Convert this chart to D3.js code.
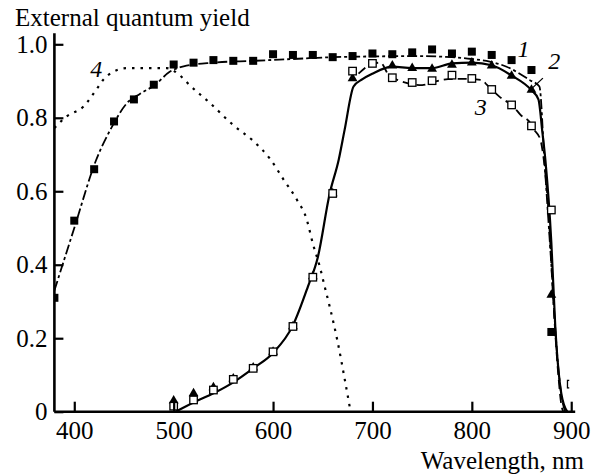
<!DOCTYPE html>
<html>
<head>
<meta charset="utf-8">
<script src="https://cdn.jsdelivr.net/npm/d3@7"></script>
<style>
  body { margin: 0; background: #fff; }
  svg text { font-family: "Liberation Serif", "Times New Roman", Times, "DejaVu Serif", serif !important; fill: #000; }
</style>
</head>
<body>
<div id="chart"></div>
<script>
(function () {

  // Marker data (wavelength, nm / external quantum yield)
  const sq1Wave = [380, 400, 420, 440, 460, 480, 500, 520, 540, 560, 580, 600, 620, 640, 660,
                   680, 700, 720, 740, 760, 780, 800, 820, 840, 860, 880]
  const sq1Yield = [0.31, 0.52, 0.66, 0.79, 0.85, 0.89, 0.945, 0.95, 0.957, 0.955, 0.955, 0.973,
                    0.971, 0.971, 0.965, 0.968, 0.975, 0.973, 0.978, 0.986, 0.975, 0.98, 0.971,
                    0.957, 0.93, 0.217]

  const tri2Wave = [500, 520, 540, 560, 580, 600, 620, 640, 660, 680, 720, 740, 760, 780, 800, 820, 840, 860, 880]
  const tri2Yield = [0.03, 0.05, 0.066, 0.09, 0.12, 0.163, 0.232, 0.368, 0.594, 0.907, 0.942,
                     0.935, 0.933, 0.944, 0.95, 0.942, 0.914, 0.876, 0.318]

  const sq3Wave = [500, 520, 540, 560, 580, 600, 620, 640, 660, 680, 700, 720, 740, 760, 780,
                   800, 820, 840, 860, 880, 900]
  const sq3Yield = [0.015, 0.032, 0.059, 0.088, 0.118, 0.163, 0.232, 0.366, 0.594, 0.927, 0.948,
                    0.909, 0.896, 0.901, 0.916, 0.907, 0.877, 0.835, 0.778, 0.549, 0.075]

  // Curves
  const line1 = [[380, 0.33], [400, 0.50], [422, 0.685], [438, 0.776], [453, 0.84], [466, 0.865],
                 [481, 0.889], [496, 0.925], [510, 0.94], [540, 0.95], [580, 0.955], [620, 0.96],
                 [660, 0.965], [700, 0.967], [740, 0.968], [780, 0.965], [800, 0.96], [818, 0.953],
                 [835, 0.939], [858, 0.903], [868, 0.885], [873, 0.685], [880, 0.4], [886, 0.15],
                 [891, 0.03], [894, 0]]
  const line2 = [[502, 0], [520, 0.025], [540, 0.05], [560, 0.08], [580, 0.118], [600, 0.16],
                 [620, 0.235], [635, 0.34], [645, 0.42], [657, 0.594], [666, 0.685], [672, 0.767],
                 [681, 0.885], [690, 0.905], [700, 0.92], [720, 0.939], [740, 0.935], [760, 0.935],
                 [780, 0.948], [800, 0.95], [820, 0.943], [840, 0.915], [860, 0.875], [867, 0.85],
                 [871, 0.76], [874, 0.685], [880, 0.46], [884, 0.23], [890, 0.05], [896, 0]]
  const line3 = [[686, 0.92], [700, 0.947], [708, 0.95], [716, 0.918], [725, 0.903], [750, 0.889],
                 [762, 0.898], [776, 0.905], [790, 0.906], [810, 0.903], [815, 0.89], [828, 0.857],
                 [842, 0.83], [849, 0.808], [859, 0.785], [862, 0.77], [869, 0.74], [872, 0.694],
                 [877, 0.55], [882, 0.3], [887, 0.1], [890, 0.02], [892, 0]]
  const line4 = [[380, 0.772], [392, 0.803], [409, 0.83], [423, 0.88], [429, 0.903], [439, 0.925],
                 [453, 0.935], [493, 0.935], [506, 0.916], [516, 0.889], [537, 0.839], [560, 0.78],
                 [580, 0.737], [597, 0.688], [611, 0.63], [624, 0.577], [634, 0.522], [640, 0.458],
                 [647, 0.395], [652, 0.34], [657, 0.286], [665, 0.19], [672, 0.09], [678, 0]]

  const xTicks = [400, 500, 600, 700, 800, 900]
  const yTicks = [0, 0.2, 0.4, 0.6, 0.8, 1.0]

  // Curve labels: [text, wavelength, yield]
  const labels = [["1", 852, 0.965], ["2", 883, 0.933], ["3", 809, 0.808], ["4", 422, 0.911]]

  const W = 598, H = 474

  const x = d3.scaleLinear().domain([380, 904]).range([54.4, 575.2])
  const y = d3.scaleLinear().domain([0, 1]).range([411.7, 44.3])

  const svg = d3.select("#chart").append("svg")
      .attr("width", W)
      .attr("height", H)

  svg.append("defs").append("clipPath").attr("id", "plot")
    .append("rect")
      .attr("x", x(380)).attr("y", y(1.05))
      .attr("width", x(898) - x(380)).attr("height", y(0) - y(1.05))

  const plot = svg.append("g").attr("clip-path", "url(#plot)")

  const line = d3.line()
      .x(d => x(d[0]))
      .y(d => y(d[1]))
      .curve(d3.curveMonotoneX)

  const curves = [
    { pts: line4, dash: "2.5,6", w: 2.2 },
    { pts: line1, dash: "10,3,3,3", w: 1.8 },
    { pts: line3, dash: "9,5", w: 1.8 },
    { pts: line2, dash: null, w: 2.2 }
  ]

  plot.selectAll("path.curve")
    .data(curves)
    .join("path")
      .attr("class", "curve")
      .attr("d", d => line(d.pts))
      .attr("fill", "none")
      .attr("stroke", "#000")
      .attr("stroke-width", d => d.w)
      .attr("stroke-dasharray", d => d.dash)

  // filled squares (1)
  const s = 8
  plot.selectAll("rect.s1")
    .data(d3.zip(sq1Wave, sq1Yield))
    .join("rect")
      .attr("class", "s1")
      .attr("x", d => x(d[0]) - s / 2)
      .attr("y", d => y(d[1]) - s / 2)
      .attr("width", s)
      .attr("height", s)
      .attr("fill", "#000")

  // triangles (2)
  const tri = d3.symbol().type(d3.symbolTriangle).size(42)
  plot.selectAll("path.t2")
    .data(d3.zip(tri2Wave, tri2Yield))
    .join("path")
      .attr("class", "t2")
      .attr("transform", d => `translate(${x(d[0])},${y(d[1])})`)
      .attr("d", tri)
      .attr("fill", "#000")

  // open squares (3)
  const o = 7.5
  plot.selectAll("rect.s3")
    .data(d3.zip(sq3Wave, sq3Yield))
    .join("rect")
      .attr("class", "s3")
      .attr("x", d => x(d[0]) - o / 2)
      .attr("y", d => y(d[1]) - o / 2)
      .attr("width", o)
      .attr("height", o)
      .attr("fill", "#fff")
      .attr("stroke", "#000")
      .attr("stroke-width", 1.3)

  // Axes
  const xAxis = d3.axisBottom(x).tickValues(xTicks).tickSize(-10).tickPadding(14).tickFormat(d3.format("d"))
  const yAxis = d3.axisLeft(y).tickValues(yTicks).tickSize(-9).tickPadding(7)
      .tickFormat(d => d === 0 ? "0" : d3.format(".1f")(d))

  const gx = svg.append("g")
      .attr("transform", `translate(0,${y(0)})`)
      .call(xAxis)
  const gy = svg.append("g")
      .attr("transform", `translate(${x(380)},0)`)
      .call(yAxis)

  gx.select(".domain").attr("d", `M${x(380)},0H${x(904)}`)
  gy.select(".domain").attr("d", `M0,${y(0)}V${y(1.03)}`)

  svg.selectAll(".domain").attr("stroke", "#000").attr("stroke-width", 2.6)
  svg.selectAll(".tick line").attr("stroke", "#000").attr("stroke-width", 2.2)
  svg.selectAll(".tick text")
      .attr("font-size", 25)
      .attr("fill", "#000")
  gx.selectAll(".tick text").attr("dy", "0.55em")

  // leader line to curve 2
  svg.append("line")
      .attr("x1", x(871.5)).attr("y1", y(0.908))
      .attr("x2", x(860.5)).attr("y2", y(0.88))
      .attr("stroke", "#000").attr("stroke-width", 1.3)

  svg.selectAll("text.lab")
    .data(labels)
    .join("text")
      .attr("class", "lab")
      .attr("x", d => x(d[1]))
      .attr("y", d => y(d[2]))
      .attr("text-anchor", "middle")
      .attr("font-style", "italic")
      .attr("font-size", 24)
      .text(d => d[0])

  svg.append("text")
      .attr("x", 15)
      .attr("y", 26)
      .attr("font-size", 25)
      .text("External quantum yield")

  svg.append("text")
      .attr("x", 584)
      .attr("y", 469)
      .attr("text-anchor", "end")
      .attr("font-size", 25)
      .text("Wavelength, nm")

})();
</script>
</body>
</html>
